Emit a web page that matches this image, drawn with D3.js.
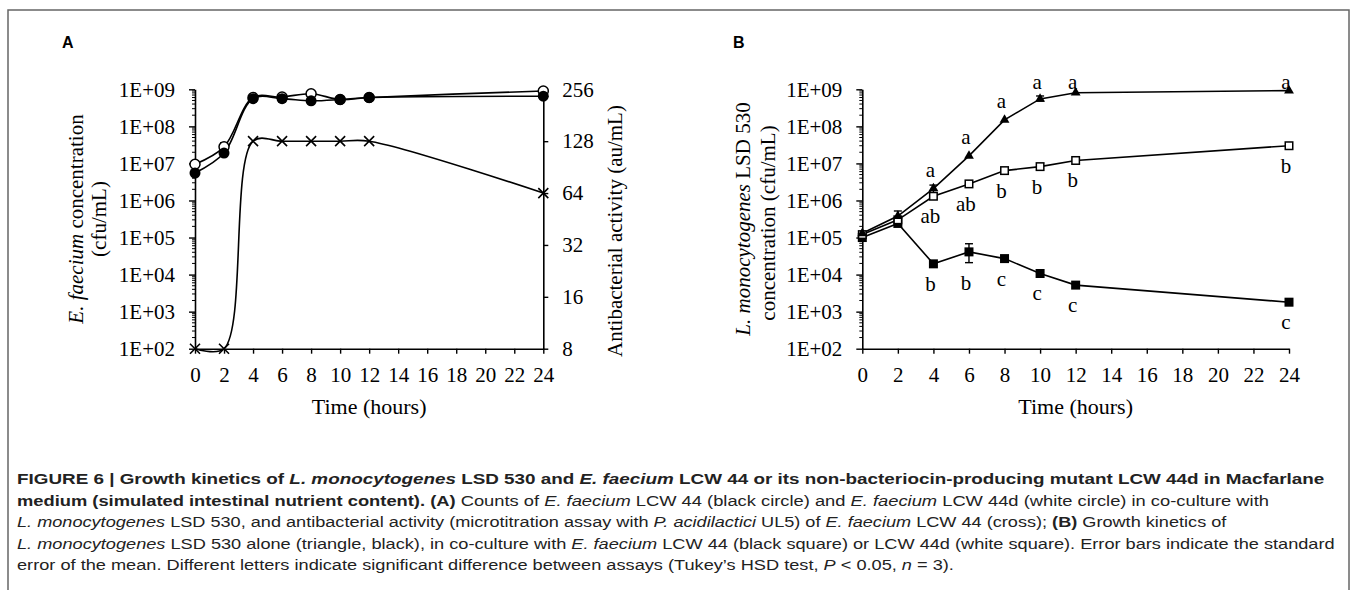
<!DOCTYPE html>
<html>
<head>
<meta charset="utf-8">
<script src="https://cdn.jsdelivr.net/npm/d3@7"></script>
<style>
  body { margin: 0; background: #fff; }
  svg { display: block; }
  .cap { font-family: "Liberation Sans", Arial, sans-serif; fill: #222; }
</style>
</head>
<body>
<svg id="fig" width="1357" height="590"></svg>
<script>
// ---- data ----
const times = [0, 2, 4, 6, 8, 10, 12, 24];
const xTicks = d3.range(0, 25, 2);
const logTicks = [1e2, 1e3, 1e4, 1e5, 1e6, 1e7, 1e8, 1e9];
const activityTicks = [8, 16, 32, 64, 128, 256];

// panel A: E. faecium counts (cfu/mL) and activity (au/mL)
const lcw44Circle = [5.5e6, 1.9e7, 5.6e8, 5.6e8, 4.9e8, 5.3e8, 6.0e8, 6.5e8];
const lcw44dCircle = [9.5e6, 2.8e7, 6.0e8, 6.2e8, 7.6e8, 5.3e8, 6.0e8, 9.0e8];
const activity = [8, 8, 128, 128, 128, 128, 128, 64];
const lcw44CircleErr = [null, null, null, [4.6e8, 6.6e8], null, null, null, null];
const lcw44dCircleErr = [[8e6, 1.15e7], [2.2e7, 3.6e7], null, null, null, null, null, null];

// panel B: L. monocytogenes LSD 530 (cfu/mL)
const lmAlone = [1.3e5, 3.8e5, 2.1e6, 1.6e7, 1.5e8, 5.5e8, 8.1e8, 9.2e8];
const lmWith44d = [1.2e5, 3.0e5, 1.3e6, 2.8e6, 6.4e6, 8.2e6, 1.2e7, 3.0e7];
const lmWith44 = [1.0e5, 2.4e5, 1.95e4, 4.1e4, 2.7e4, 1.07e4, 5.2e3, 1.8e3];
const lmAloneErr = [null, [2.9e5, 5.2e5], [1.6e6, 2.6e6], null, null, [4.8e8, 6.6e8], null, null];
const lmWith44Err = [null, null, null, [2.1e4, 6.8e4], null, null, null, null];
const lettersAlone = ["", "", "a", "a", "a", "a", "a", "a"];
const lettersWith44d = ["", "", "ab", "ab", "b", "b", "b", "b"];
const lettersWith44 = ["", "", "b", "b", "c", "c", "c", "c"];

const svg = d3.select("#fig");
const SERIF = '"Liberation Serif", "Times New Roman", serif';

svg.append("rect")
    .attr("x", 8).attr("y", 10)
    .attr("width", 1341).attr("height", 600)
    .attr("fill", "none").attr("stroke", "#666").attr("stroke-width", 1.5);

const plotTop = 89.3, plotBottom = 348.7;
const fmtExp = d => "1E+" + String(Math.round(Math.log10(d))).padStart(2, "0");

function styleAxis(g) {
    g.selectAll("path").attr("stroke", "#000").attr("stroke-width", 1.6);
    g.selectAll("line").attr("stroke", "#000").attr("stroke-width", 1.4);
    g.selectAll("text").attr("font-size", 21).attr("fill", "#000")
        .style("font-family", SERIF);
}

function drawFrame(left, right) {
    const x = d3.scaleLinear().domain([0, 24]).range([left, right]);
    const y = d3.scaleLog().domain([1e2, 1e9]).range([plotBottom, plotTop]);

    // minor log ticks
    const minors = [];
    for (let e = 2; e < 9; e++) for (let m = 2; m < 10; m++) minors.push(m * Math.pow(10, e));
    svg.append("g").selectAll("line").data(minors).join("line")
        .attr("x1", left - 3).attr("x2", left)
        .attr("y1", d => y(d)).attr("y2", d => y(d))
        .attr("stroke", "#000").attr("stroke-width", 1);

    svg.append("g").attr("transform", `translate(${left},0)`)
        .call(d3.axisLeft(y).tickValues(logTicks).tickFormat(fmtExp)
            .tickSize(6).tickSizeOuter(0).tickPadding(14))
        .call(styleAxis);

    svg.append("g").attr("transform", `translate(0,${plotBottom})`)
        .call(d3.axisBottom(x).tickValues(xTicks).tickFormat(d3.format("d"))
            .tickSize(5).tickSizeOuter(0).tickPadding(13))
        .call(styleAxis);

    svg.append("text")
        .attr("x", (left + right) / 2).attr("y", 414)
        .attr("text-anchor", "middle").attr("font-size", 22)
        .style("font-family", SERIF)
        .text("Time (hours)");
    return { x, y };
}

function errBars(x, y, err, cap) {
    const d = times.map((t, i) => ({ t, e: err[i] })).filter(d => d.e);
    const g = svg.append("g").attr("stroke", "#000").attr("stroke-width", 1.4);
    d.forEach(p => {
        const cx = x(p.t);
        g.append("line").attr("x1", cx).attr("x2", cx).attr("y1", y(p.e[0])).attr("y2", y(p.e[1]));
        g.append("line").attr("x1", cx - cap).attr("x2", cx + cap).attr("y1", y(p.e[0])).attr("y2", y(p.e[0]));
        g.append("line").attr("x1", cx - cap).attr("x2", cx + cap).attr("y1", y(p.e[1])).attr("y2", y(p.e[1]));
    });
}

function seriesLine(x, y, vals, curve) {
    svg.append("path")
        .datum(times.map((t, i) => [t, vals[i]]))
        .attr("fill", "none").attr("stroke", "#000").attr("stroke-width", 1.6)
        .attr("d", d3.line().x(d => x(d[0])).y(d => y(d[1])).curve(curve));
}

// ---------------- Panel A ----------------
{
    const left = 195, right = 543.3;
    const { x, y } = drawFrame(left, right);
    const y2 = d3.scaleLog().base(2).domain([8, 256]).range([plotBottom, plotTop]);

    svg.append("g").attr("transform", `translate(${right},0)`)
        .call(d3.axisRight(y2).tickValues(activityTicks).tickFormat(d3.format("d"))
            .tickSize(5).tickSizeOuter(0).tickPadding(14))
        .call(styleAxis);

    const smooth = d3.curveCatmullRom.alpha(0.5);
    seriesLine(x, y2, activity, smooth);
    seriesLine(x, y, lcw44dCircle, smooth);
    seriesLine(x, y, lcw44Circle, smooth);
    errBars(x, y, lcw44dCircleErr, 4);
    errBars(x, y, lcw44CircleErr, 4);

    // crosses
    svg.append("g").selectAll("path").data(times.map((t, i) => [t, activity[i]])).join("path")
        .attr("transform", d => `translate(${x(d[0])},${y2(d[1])})`)
        .attr("d", "M-5,-5L5,5M-5,5L5,-5")
        .attr("stroke", "#000").attr("stroke-width", 1.6);

    svg.append("g").selectAll("circle").data(times.map((t, i) => [t, lcw44dCircle[i]])).join("circle")
        .attr("cx", d => x(d[0])).attr("cy", d => y(d[1])).attr("r", 5)
        .attr("fill", "#fff").attr("stroke", "#000").attr("stroke-width", 1.5);
    svg.append("g").selectAll("circle").data(times.map((t, i) => [t, lcw44Circle[i]])).join("circle")
        .attr("cx", d => x(d[0])).attr("cy", d => y(d[1])).attr("r", 5.5)
        .attr("fill", "#000");

    const ty = svg.append("text")
        .attr("transform", `translate(83,219) rotate(-90)`)
        .attr("text-anchor", "middle").attr("font-size", 21)
        .style("font-family", SERIF);
    ty.append("tspan").attr("font-style", "italic").text("E. faecium");
    ty.append("tspan").text(" concentration");
    svg.append("text")
        .attr("transform", `translate(106,219) rotate(-90)`)
        .attr("text-anchor", "middle").attr("font-size", 21)
        .style("font-family", SERIF)
        .text("(cfu/mL)");

    svg.append("text")
        .attr("transform", `translate(622,231) rotate(-90)`)
        .attr("text-anchor", "middle").attr("font-size", 21)
        .style("font-family", SERIF)
        .text("Antibacterial activity (au/mL)");

    svg.append("text").attr("x", 62).attr("y", 48)
        .attr("font-size", 16).attr("font-weight", "bold")
        .style("font-family", '"Liberation Sans", Arial, sans-serif')
        .text("A");
}

// ---------------- Panel B ----------------
{
    const left = 862.3, right = 1289;
    const { x, y } = drawFrame(left, right);

    seriesLine(x, y, lmWith44, d3.curveLinear);
    seriesLine(x, y, lmWith44d, d3.curveLinear);
    seriesLine(x, y, lmAlone, d3.curveLinear);
    errBars(x, y, lmAloneErr, 4);
    errBars(x, y, lmWith44Err, 4);

    const sq = 9;
    svg.append("g").selectAll("rect").data(times.map((t, i) => [t, lmWith44[i]])).join("rect")
        .attr("x", d => x(d[0]) - sq / 2).attr("y", d => y(d[1]) - sq / 2)
        .attr("width", sq).attr("height", sq).attr("fill", "#000");
    svg.append("g").selectAll("rect").data(times.map((t, i) => [t, lmWith44d[i]])).join("rect")
        .attr("x", d => x(d[0]) - sq / 2 + 0.75).attr("y", d => y(d[1]) - sq / 2 + 0.75)
        .attr("width", sq - 1.5).attr("height", sq - 1.5)
        .attr("fill", "#fff").attr("stroke", "#000").attr("stroke-width", 1.5);
    svg.append("g").selectAll("path").data(times.map((t, i) => [t, lmAlone[i]])).join("path")
        .attr("transform", d => `translate(${x(d[0])},${y(d[1])})`)
        .attr("d", d3.symbol(d3.symbolTriangle, 42))
        .attr("fill", "#000");

    // significance letters
    const lab = svg.append("g").attr("font-size", 21)
        .style("font-family", SERIF)
        .attr("text-anchor", "middle");
    const botOf = (v, e) => y(e ? e[0] : v);
    times.forEach((t, i) => {
        if (lettersAlone[i]) lab.append("text").attr("x", x(t) - 3)
            .attr("y", Math.max(y(lmAlone[i]) - 12, 89)).text(lettersAlone[i]);
        if (lettersWith44d[i]) lab.append("text").attr("x", x(t) - 3)
            .attr("y", botOf(lmWith44d[i], null) + 27).text(lettersWith44d[i]);
        if (lettersWith44[i]) lab.append("text").attr("x", x(t) - 3)
            .attr("y", botOf(lmWith44[i], lmWith44Err[i]) + 27).text(lettersWith44[i]);
    });

    const ty = svg.append("text")
        .attr("transform", `translate(750,219) rotate(-90)`)
        .attr("text-anchor", "middle").attr("font-size", 21)
        .style("font-family", SERIF);
    ty.append("tspan").attr("font-style", "italic").text("L. monocytogenes");
    ty.append("tspan").text(" LSD 530");
    svg.append("text")
        .attr("transform", `translate(775,223) rotate(-90)`)
        .attr("text-anchor", "middle").attr("font-size", 21)
        .style("font-family", SERIF)
        .text("concentration (cfu/mL)");

    svg.append("text").attr("x", 733).attr("y", 48)
        .attr("font-size", 16).attr("font-weight", "bold")
        .style("font-family", '"Liberation Sans", Arial, sans-serif')
        .text("B");
}

// ---------------- Caption ----------------
// each line: list of [text, bold, italic]; fitted to the measured line width
const captionLines = [
    { y: 484, w: 1308, parts: [["FIGURE 6 | Growth kinetics of ", 1, 0], ["L. monocytogenes", 1, 1], [" LSD 530 and ", 1, 0], ["E. faecium", 1, 1], [" LCW 44 or its non-bacteriocin-producing mutant LCW 44d in Macfarlane", 1, 0]] },
    { y: 505.5, w: 1253, parts: [["medium (simulated intestinal nutrient content). (A)", 1, 0], [" Counts of ", 0, 0], ["E. faecium", 0, 1], [" LCW 44 (black circle) and ", 0, 0], ["E. faecium", 0, 1], [" LCW 44d (white circle) in co-culture with", 0, 0]] },
    { y: 527, w: 1211, parts: [["L. monocytogenes", 0, 1], [" LSD 530, and antibacterial activity (microtitration assay with ", 0, 0], ["P. acidilactici", 0, 1], [" UL5) of ", 0, 0], ["E. faecium", 0, 1], [" LCW 44 (cross); ", 0, 0], ["(B)", 1, 0], [" Growth kinetics of", 0, 0]] },
    { y: 548.5, w: 1318, parts: [["L. monocytogenes", 0, 1], [" LSD 530 alone (triangle, black), in co-culture with ", 0, 0], ["E. faecium", 0, 1], [" LCW 44 (black square) or LCW 44d (white square). Error bars indicate the standard", 0, 0]] },
    { y: 570, w: 938, parts: [["error of the mean. Different letters indicate significant difference between assays (Tukey\u2019s HSD test, ", 0, 0], ["P", 0, 1], [" < 0.05, ", 0, 0], ["n", 0, 1], [" = 3).", 0, 0]] }
];

captionLines.forEach(line => {
    const t = svg.append("text").attr("class", "cap").attr("font-size", 15)
        .attr("xml:space", "preserve");
    line.parts.forEach(p => {
        t.append("tspan").text(p[0])
            .attr("font-weight", p[1] ? "bold" : "normal")
            .attr("font-style", p[2] ? "italic" : "normal");
    });
    const natural = t.node().getComputedTextLength();
    t.attr("transform", `translate(17,${line.y}) scale(${line.w / natural},1)`);
});
</script>
</body>
</html>
